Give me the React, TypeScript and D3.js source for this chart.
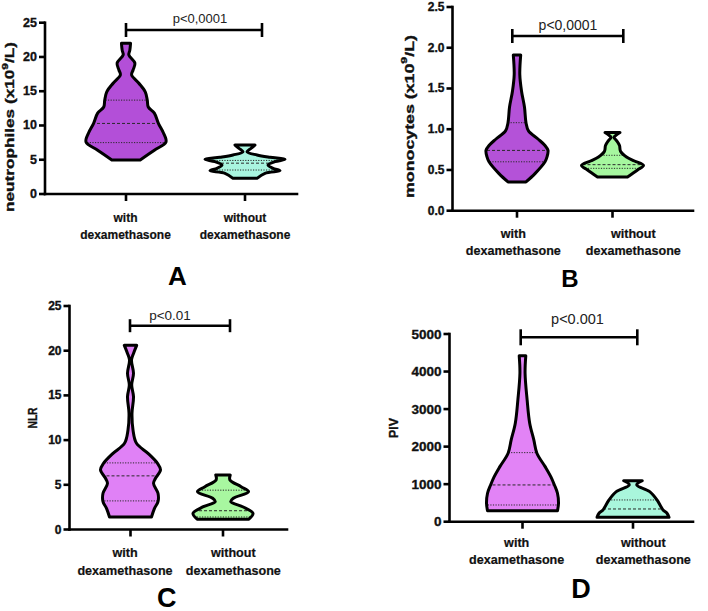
import React from 'react';
import * as d3 from 'd3';

// categories (x axis)
const groups = ['with dexamethasone', 'without dexamethasone'];
const groupLines = [['with', 'dexamethasone'], ['without', 'dexamethasone']];

// violin profiles: [value, relative density], top -> bottom
// A - neutrophiles
const neutroTicks = [0, 5, 10, 15, 20, 25];
const neutroWith = [
  [22.0, 4.5], [21.0, 3.8], [20.3, 2.8], [19.1, 8.8], [18.1, 7], [17.4, 5.5],
  [16.2, 12.5], [14.9, 19], [13.7, 21], [12.7, 22], [11.8, 28], [10.3, 32],
  [8.9, 37], [7.6, 39.5], [6.4, 28], [4.96, 14],
];
const neutroWithout = [
  [7.15, 10], [6.67, 6], [6.17, 2], [5.69, 12], [5.35, 25], [5.06, 40], [4.72, 30],
  [4.23, 23], [3.75, 28], [3.4, 35], [3.02, 20], [2.29, 12],
];
const neutroQWith = [7.5, 10.3, 13.7];
const neutroQWithout = [3.5, 4.5, 4.9];

// B - monocytes
const monoTicks = [0, 0.5, 1.0, 1.5, 2.0, 2.5];
const monoWith = [
  [1.91, 3.7], [1.67, 2.8], [1.47, 4.5], [1.27, 7.5], [1.08, 9], [0.98, 11.5],
  [0.88, 21], [0.8, 28], [0.74, 31], [0.66, 30], [0.6, 28], [0.455, 18], [0.353, 9],
];
const monoWithout = [
  [0.96, 7.5], [0.93, 4], [0.9, 1.5], [0.86, 4], [0.8, 7], [0.73, 8], [0.66, 14],
  [0.61, 22], [0.556, 31], [0.5, 25], [0.414, 15],
];
const monoQWith = [0.6, 0.74, 1.08];
const monoQWithout = [0.52, 0.565, 0.68];

// C - NLR
const nlrTicks = [0, 5, 10, 15, 20, 25];
const nlrWith = [
  [20.6, 6.2], [19.7, 3], [18.96, 1], [17.47, 3], [16.16, 1.2], [14.86, 3], [13.0, 1.5],
  [11.13, 2.5], [9.64, 6], [8.52, 17.5], [7.4, 27], [6.66, 30], [5.73, 25], [5.17, 23],
  [4.05, 27.5], [3.11, 27.5], [2.37, 24], [1.4, 21],
];
const nlrWithout = [
  [6.1, 7], [5.54, 6.7], [4.79, 17.5], [4.23, 24.7], [3.49, 10], [3.11, 7.5],
  [2.55, 19], [1.81, 29], [1.15, 25],
];
const nlrQWith = [3.2, 6.0, 7.45];
const nlrQWithout = [1.4, 2.1, 4.4];

// D - PIV
const pivTicks = [0, 1000, 2000, 3000, 4000, 5000];
const pivWith = [
  [4419, 3.2], [3957, 2.5], [3245, 4.5], [2624, 7], [2179, 11], [1824, 14], [1467, 22],
  [1200, 27.5], [979, 31], [757, 34], [490, 35], [290, 34],
];
const pivWithout = [
  [1093, 9.3], [979, 3.7], [800, 16.7], [579, 24], [400, 28], [312, 30], [224, 34], [117, 36],
];
const pivQWith = [445, 979, 1840];
const pivQWithout = [133, 339, 579];

const pLabels = ['p<0,0001', 'p<0,0001', 'p<0.01', 'p<0.001'];

const FONT = '"Liberation Sans", Arial, Helvetica, sans-serif';

type Prof = number[][];

const panels = [
  {
    key: 'A', ticks: neutroTicks, fmt: d3.format('d'), violins: [neutroWith, neutroWithout],
    quarts: [neutroQWith, neutroQWithout], fills: ['#b34fd8', '#a9f5df'], p: pLabels[0],
    axisX: 45, yTop: 22.7, y0: 194, xRight: 297, cx: [126, 245], maxHW: 40, tickFont: 12.5,
    yLabel: { parts: ['neutrophiles (x10', '9', '/L)'], x: 9.5, y: 127, len: 170, size: 13.5 },
    catFont: 12, catX: [125.5, 245], catY: [222, 239],
    bracket: { x1: 126, x2: 262, y: 30, h: 7 }, pPos: { x: 200, y: 23, size: 13 },
    letter: { x: 177.5, y: 285, size: 26 },
  },
  {
    key: 'B', ticks: monoTicks, fmt: d3.format('.1f'), violins: [monoWith, monoWithout],
    quarts: [monoQWith, monoQWithout], fills: ['#b452d8', '#a6f79f'], p: pLabels[1],
    axisX: 452.5, yTop: 7, y0: 210.7, xRight: 693, cx: [517, 612.5], maxHW: 31, tickFont: 12,
    yLabel: { parts: ['monocytes (x10', '9', '/L)'], x: 409, y: 116.5, len: 163, size: 13.5 },
    catFont: 12.6, catX: [513.3, 633.3], catY: [238, 255],
    bracket: { x1: 512.3, x2: 623.3, y: 36, h: 7 }, pPos: { x: 568, y: 29.5, size: 14 },
    letter: { x: 570, y: 287, size: 24 },
  },
  {
    key: 'C', ticks: nlrTicks, fmt: d3.format('d'), violins: [nlrWith, nlrWithout],
    quarts: [nlrQWith, nlrQWithout], fills: ['#e081f6', '#a8f7a0'], p: pLabels[2],
    axisX: 69.5, yTop: 306, y0: 529.5, xRight: 287, cx: [130.5, 223], maxHW: 30, tickFont: 12,
    yLabel: { parts: ['NLR'], x: 32.5, y: 418, len: 21, size: 12 },
    catFont: 12.6, catX: [125, 233.3], catY: [557, 575],
    bracket: { x1: 130, x2: 230, y: 325.7, h: 6.5 }, pPos: { x: 170, y: 320, size: 13.5 },
    letter: { x: 166.7, y: 606.5, size: 27 },
  },
  {
    key: 'D', ticks: pivTicks, fmt: d3.format('d'), violins: [pivWith, pivWithout],
    quarts: [pivQWith, pivQWithout], fills: ['#e283f6', '#a9f6dc'], p: pLabels[3],
    axisX: 449.5, yTop: 334, y0: 521.7, xRight: 693, cx: [522.5, 633], maxHW: 36, tickFont: 13.5,
    yLabel: { parts: ['PIV'], x: 393.3, y: 428, len: 20, size: 13.5 },
    catFont: 12.6, catX: [516.7, 643.3], catY: [546.5, 563.5],
    bracket: { x1: 520.7, x2: 637.3, y: 337.3, h: 8 }, pPos: { x: 577.5, y: 323.5, size: 14.5 },
    letter: { x: 581, y: 598, size: 27 },
  },
];

function Violin({ profile, quart, cx, y, maxHW, fill, id }: {
  profile: Prof; quart: number[]; cx: number; y: d3.ScaleLinear<number, number>;
  maxHW: number; fill: string; id: string;
}) {
  const w = d3.scaleLinear().domain([0, d3.max(profile, (d) => d[1]) as number]).range([0, maxHW]);
  const area = d3.area<number[]>()
    .y((d) => y(d[0]))
    .x0((d) => cx - w(d[1]))
    .x1((d) => cx + w(d[1]))
    .curve(d3.curveCatmullRom.alpha(0.5));
  const d = area(profile) || '';
  return (
    <g>
      <clipPath id={id}><path d={d} /></clipPath>
      <path d={d} fill={fill} />
      <g clipPath={`url(#${id})`}>
        {quart.map((q, i) => (
          <line key={i} x1={cx - maxHW - 4} x2={cx + maxHW + 4} y1={y(q)} y2={y(q)}
            stroke="#2a2a2a" strokeWidth={1}
            strokeDasharray={i === 1 ? '3,2' : '1.2,1.4'} />
        ))}
      </g>
      <path d={d} fill="none" stroke="#000" strokeWidth={3} strokeLinejoin="round" />
    </g>
  );
}

// bold text with a hair of stroke to mimic the heavy, slightly blurred source
const heavy = { fontWeight: 'bold' as const, fill: '#111', stroke: '#111', strokeWidth: 0.35 };

function Panel({ cfg }: { cfg: typeof panels[number] }) {
  const y = d3.scaleLinear()
    .domain([0, cfg.ticks[cfg.ticks.length - 1]])
    .range([cfg.y0, cfg.yTop]);
  const x = d3.scalePoint<string>().domain(groups).range([cfg.cx[0], cfg.cx[1]]);
  const b = cfg.bracket;
  return (
    <g fontFamily={FONT}>
      {cfg.violins.map((prof, i) => (
        <Violin key={i} profile={prof} quart={cfg.quarts[i]} cx={x(groups[i]) as number}
          y={y} maxHW={cfg.maxHW} fill={cfg.fills[i]} id={`clip-${cfg.key}-${i}`} />
      ))}
      {/* axes */}
      <g stroke="#000" strokeWidth={2.6} strokeLinecap="square">
        <line x1={cfg.axisX} x2={cfg.axisX} y1={cfg.yTop} y2={cfg.y0} />
        <line x1={cfg.axisX} x2={cfg.xRight} y1={cfg.y0} y2={cfg.y0} />
        {cfg.ticks.map((t) => (
          <line key={t} x1={cfg.axisX - 6} x2={cfg.axisX} y1={y(t)} y2={y(t)} strokeLinecap="butt" />
        ))}
        {groups.map((g) => (
          <line key={g} x1={x(g)} x2={x(g)} y1={cfg.y0} y2={cfg.y0 + 7} strokeLinecap="butt" />
        ))}
      </g>
      {cfg.ticks.map((t) => (
        <text key={t} x={cfg.axisX - 8} y={y(t)} textAnchor="end" dominantBaseline="central"
          fontSize={cfg.tickFont} {...heavy}>{cfg.fmt(t)}</text>
      ))}
      {groups.map((g, i) => (
        <text key={g} textAnchor="middle" fontSize={cfg.catFont} {...heavy} strokeWidth={0.2}>
          {groupLines[i].map((ln, j) => (
            <tspan key={j} x={cfg.catX[i]} y={cfg.catY[j]}>{ln}</tspan>
          ))}
        </text>
      ))}
      <text transform={`translate(${cfg.yLabel.x},${cfg.yLabel.y}) rotate(-90)`}
        textAnchor="middle" dominantBaseline="central" fontSize={cfg.yLabel.size}
        {...heavy} textLength={cfg.yLabel.len} lengthAdjust="spacingAndGlyphs">
        {cfg.yLabel.parts.length > 1 ? (
          <>
            {cfg.yLabel.parts[0]}
            <tspan baselineShift="super" fontSize="70%">{cfg.yLabel.parts[1]}</tspan>
            {cfg.yLabel.parts[2]}
          </>
        ) : cfg.yLabel.parts[0]}
      </text>
      {/* significance bracket */}
      <g stroke="#000" strokeWidth={2.6}>
        <line x1={b.x1} x2={b.x2} y1={b.y} y2={b.y} />
        <line x1={b.x1} x2={b.x1} y1={b.y - b.h} y2={b.y + b.h} />
        <line x1={b.x2} x2={b.x2} y1={b.y - b.h} y2={b.y + b.h} />
      </g>
      <text x={cfg.pPos.x} y={cfg.pPos.y} textAnchor="middle" fontSize={cfg.pPos.size} fill="#222">
        {cfg.p}
      </text>
      <text x={cfg.letter.x} y={cfg.letter.y} textAnchor="middle" fontSize={cfg.letter.size}
        fontWeight="bold" fill="#000">{cfg.key}</text>
    </g>
  );
}

export default function App() {
  return (
    <div style={{ position: 'absolute', left: 0, top: 0, width: 708, height: 611, background: '#fff' }}>
      <svg width={708} height={611} style={{ display: 'block' }}>
        <rect width={708} height={611} fill="#fff" />
        {panels.map((p) => <Panel key={p.key} cfg={p} />)}
      </svg>
    </div>
  );
}
